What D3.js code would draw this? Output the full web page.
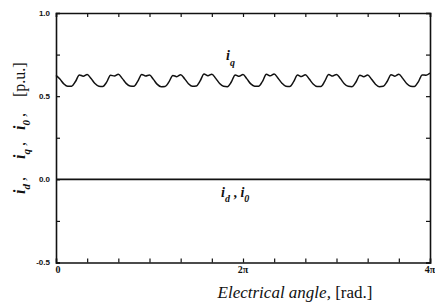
<!DOCTYPE html>
<html>
<head>
<meta charset="utf-8">
<script src="https://cdn.jsdelivr.net/npm/d3@7"></script>
<style>
html,body{margin:0;padding:0;background:#fff;}
svg{display:block;}
</style>
</head>
<body>
<svg id="chart" width="435" height="308"></svg>
<script>
// ---- data ----
// electrical angle in units of pi, sampled every pi/24 from 0 to 4pi
const angleStepPi = 1 / 24;
const iqValues = [
  0.625, 0.603, 0.574, 0.559, 0.560, 0.588, 0.628, 0.620,
  0.630, 0.606, 0.576, 0.560, 0.558, 0.584, 0.626, 0.621,
  0.632, 0.607, 0.577, 0.561, 0.559, 0.590, 0.631, 0.621,
  0.627, 0.601, 0.571, 0.557, 0.558, 0.586, 0.625, 0.617,
  0.629, 0.605, 0.575, 0.559, 0.561, 0.592, 0.633, 0.623,
  0.632, 0.607, 0.576, 0.559, 0.557, 0.585, 0.628, 0.619,
  0.630, 0.604, 0.574, 0.560, 0.559, 0.589, 0.632, 0.622,
  0.634, 0.608, 0.578, 0.560, 0.558, 0.587, 0.627, 0.618,
  0.629, 0.603, 0.573, 0.558, 0.558, 0.590, 0.630, 0.621,
  0.631, 0.606, 0.575, 0.559, 0.557, 0.585, 0.626, 0.617,
  0.628, 0.602, 0.572, 0.557, 0.559, 0.588, 0.629, 0.620,
  0.632, 0.607, 0.576, 0.560, 0.558, 0.586, 0.628, 0.626,
  0.638
];
const idValues = [0, 0, 0, 0, 0];           // i_d and i_0 are zero over the whole range
const idAnglesPi = [0, 1, 2, 3, 4];
const xTickValuesPi = [0, 2, 4];
const xTickLabels = ["0", "2\u03C0", "4\u03C0"];
const xMinorTicksPi = [0, 1/3, 2/3, 1, 4/3, 5/3, 2, 7/3, 8/3, 3, 10/3, 11/3, 4];
const yTickValues = [-0.5, 0.0, 0.5, 1.0];
const yTickLabels = ["-0.5", "0.0", "0.5", "1.0"];
const yMinorTicks = [-0.5, -0.25, 0, 0.25, 0.5, 0.75, 1.0];
const yTitleSubs = ["d", "q", "0"];

// ---- layout ----
const svg = d3.select("#chart");
const L = 56, R = 430, T = 13, B = 262.5;
const x = d3.scaleLinear().domain([0, 4]).range([L, R]);
const y = d3.scaleLinear().domain([-0.5, 1.0]).range([B, T]);

// series
const iqData = iqValues.map((v, i) => [i * angleStepPi, v]);
const idData = idValues.map((v, i) => [idAnglesPi[i], v]);
const line = d3.line().x(d => x(d[0])).y(d => y(d[1])).curve(d3.curveMonotoneX);

svg.append("path").datum(idData).attr("d", line)
  .attr("fill", "none").attr("stroke", "#111").attr("stroke-width", 1.6);
svg.append("path").datum(iqData).attr("d", line)
  .attr("fill", "none").attr("stroke", "#111").attr("stroke-width", 1.5)
  .attr("stroke-linejoin", "round");

// axes (inward ticks, frame)
const tickLen = 4;
const gB = svg.append("g").attr("transform", `translate(0,${B})`)
  .call(d3.axisBottom(x).tickValues(xMinorTicksPi).tickSize(-tickLen).tickFormat(""));
const gT = svg.append("g").attr("transform", `translate(0,${T})`)
  .call(d3.axisTop(x).tickValues(xMinorTicksPi).tickSize(-tickLen).tickFormat(""));
const gL = svg.append("g").attr("transform", `translate(${L},0)`)
  .call(d3.axisLeft(y).tickValues(yMinorTicks).tickSize(-tickLen).tickFormat(""));
const gR = svg.append("g").attr("transform", `translate(${R},0)`)
  .call(d3.axisRight(y).tickValues(yMinorTicks).tickSize(-tickLen).tickFormat(""));
[gB, gT, gL, gR].forEach(g => {
  g.select(".domain").attr("stroke", "#111").attr("stroke-width", 1.6);
  g.selectAll(".tick line").attr("stroke", "#111").attr("stroke-width", 1.2);
});

// y tick labels
svg.append("g").selectAll("text").data(yTickValues).join("text")
  .attr("x", L - 6).attr("y", d => y(d)).attr("dy", "0.35em")
  .attr("text-anchor", "end")
  .attr("font-family", "Liberation Sans, Arial, sans-serif")
  .attr("font-size", 8).attr("font-weight", "bold").attr("fill", "#111")
  .text((d, i) => yTickLabels[i]);

// x tick labels
svg.append("g").selectAll("text").data(xTickValuesPi).join("text")
  .attr("x", d => x(d) + (d === 0 ? 2 : 0)).attr("y", B + 10)
  .attr("text-anchor", "middle")
  .attr("font-family", "Liberation Serif, Times New Roman, serif")
  .attr("font-size", 10).attr("font-weight", "bold").attr("fill", "#111")
  .text((d, i) => xTickLabels[i]);

// x axis title
const xt = svg.append("text").attr("x", 295).attr("y", 298)
  .attr("text-anchor", "middle")
  .attr("font-family", "Liberation Serif, Times New Roman, serif")
  .attr("font-size", 17).attr("fill", "#111");
xt.append("tspan").attr("font-style", "italic").text("Electrical angle,");
xt.append("tspan").text(" [rad.]");

// y axis title (rotated), pieces laid out along the rotated baseline
const yg = svg.append("g").attr("transform", "translate(25,194) rotate(-90)")
  .attr("font-family", "Liberation Serif, Times New Roman, serif").attr("fill", "#111");
const symOffsets = [0, 35, 64];
yTitleSubs.forEach((s, k) => {
  const t = yg.append("text").attr("x", symOffsets[k]).attr("y", 0).attr("font-size", 16);
  t.append("tspan").attr("font-style", "italic").attr("font-weight", "bold").text("i");
  t.append("tspan").attr("font-style", "italic").attr("font-weight", "bold")
    .attr("font-size", 11).attr("dy", 5).text(s);
  t.append("tspan").attr("dy", -5).attr("dx", 3).text(",");
});
yg.append("text").attr("x", 97).attr("y", 0).attr("font-size", 16).text("[p.u.]");

// series labels
const lq = svg.append("text").attr("x", 226).attr("y", 60)
  .attr("font-family", "Liberation Serif, Times New Roman, serif")
  .attr("font-size", 14).attr("fill", "#111");
lq.append("tspan").attr("font-style", "italic").attr("font-weight", "bold").text("i");
lq.append("tspan").attr("font-style", "italic").attr("font-weight", "bold")
  .attr("font-size", 10).attr("dy", 6).text("q");

const ld = svg.append("text").attr("x", 221).attr("y", 197)
  .attr("font-family", "Liberation Serif, Times New Roman, serif")
  .attr("font-size", 14).attr("fill", "#111");
ld.append("tspan").attr("font-style", "italic").attr("font-weight", "bold").text("i");
ld.append("tspan").attr("font-style", "italic").attr("font-weight", "bold")
  .attr("font-size", 10).attr("dy", 5).text("d");
ld.append("tspan").attr("dy", -5).attr("font-weight", "bold").text(" ,  ");
ld.append("tspan").attr("font-style", "italic").attr("font-weight", "bold").text("i");
ld.append("tspan").attr("font-style", "italic").attr("font-weight", "bold")
  .attr("font-size", 10).attr("dy", 5).text("0");
</script>
</body>
</html>
